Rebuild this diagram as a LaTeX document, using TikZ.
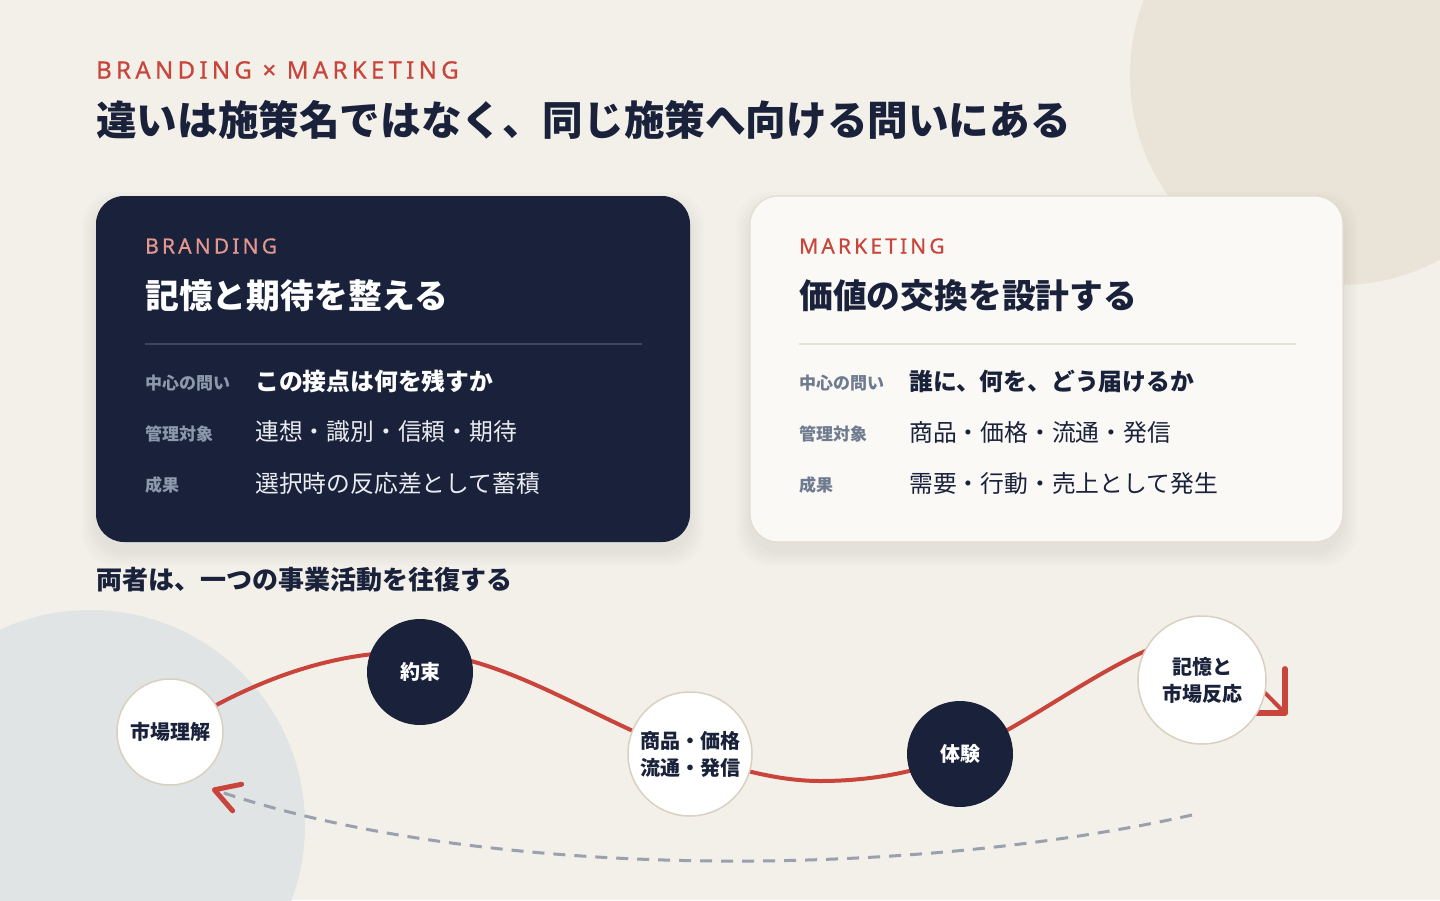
\documentclass[tikz,border=0pt]{standalone}
\usepackage{fontspec}
\setmainfont{Noto Sans CJK JP}
\newfontfamily\lat{Noto Sans}[LetterSpace=15,FakeBold=0.6]
\newfontfamily\lathdr{Noto Sans}[LetterSpace=18,FakeBold=0.6]
\usetikzlibrary{arrows.meta}
\definecolor{bgc}{HTML}{F3F0E9}
\definecolor{decoA}{HTML}{EAE3D7}
\definecolor{decoB}{HTML}{E1E4E5}
\definecolor{navy}{HTML}{19223A}
\definecolor{redc}{HTML}{C9443B}
\definecolor{salmon}{HTML}{E3978F}
\definecolor{lblD}{HTML}{8D98AC}
\definecolor{lblL}{HTML}{6F7B8F}
\definecolor{divD}{HTML}{3B475C}
\definecolor{divL}{HTML}{E6E1D9}
\definecolor{cardL}{HTML}{FAF9F6}
\definecolor{cardLb}{HTML}{E3DCD0}
\definecolor{circb}{HTML}{D9D0C0}
\definecolor{dashc}{HTML}{9AA0AD}
\definecolor{valD}{HTML}{E9EBEF}
\pgfdeclarelayer{bgl}
\pgfdeclarelayer{midl}
\pgfsetlayers{bgl,midl,main}
\begin{document}
\begin{tikzpicture}[x=1pt,y=-1pt,
  txt/.style={anchor=west,inner sep=0pt},
  hdr/.style={txt,text=redc,font=\lathdr\fontsize{24}{28}\selectfont},
  eyebrow/.style={txt,font=\lat\fontsize{21}{25}\selectfont},
  bigtitle/.style={txt,text=navy,font=\bfseries\fontsize{40.6}{48}\selectfont},
  cardtitle/.style={txt,font=\bfseries\fontsize{33.8}{40}\selectfont},
  rowlbl/.style={txt,font=\bfseries\fontsize{17}{20}\selectfont},
  rowq/.style={txt,font=\bfseries\fontsize{23.8}{28}\selectfont},
  rowv/.style={txt,font=\fontsize{23.8}{28}\selectfont},
  subttl/.style={txt,text=navy,font=\bfseries\fontsize{26}{30}\selectfont},
  cbase/.style={circle,inner sep=0pt,align=center,font=\bfseries\fontsize{20}{27}\selectfont},
  cw/.style={cbase,fill=white,draw=circb,line width=1.5pt,text=navy},
  cn/.style={cbase,fill=navy,text=white},
  redline/.style={draw=redc,line width=4pt,line cap=round},
  dashline/.style={draw=dashc,line width=3pt,dash pattern=on 12pt off 9pt}
]
\useasboundingbox (0,0) rectangle (1440,900);
\begin{pgfonlayer}{bgl}
  \fill[bgc] (0,0) rectangle (1440,900);
  \begin{scope}
    \clip (0,0) rectangle (1440,900);
    \fill[decoA] (1340,75) circle[radius=210];
    \fill[decoB] (90,825) circle[radius=215];
  \end{scope}
\end{pgfonlayer}

% card shadows
\foreach \s in {2,5,8,11,14}{
  \fill[black,opacity=0.012,rounded corners=34pt] (96-\s,196-\s+10) rectangle (690+\s,542+\s+10);
  \fill[black,opacity=0.010,rounded corners=34pt] (750-\s,196-\s+10) rectangle (1343+\s,542+\s+10);
}

% cards
\node[fill=navy,rounded corners=28pt,minimum width=594,minimum height=346,inner sep=0pt] (bcard) at (393,369) {};
\node[fill=cardL,draw=cardLb,line width=1.2pt,rounded corners=28pt,minimum width=593,minimum height=346,inner sep=0pt] (mcard) at (1046.5,369) {};

% header
\node[hdr] (hdr) at (96,70) {BRANDING × MARKETING};
\node[bigtitle] (title) at (96,120) {違いは施策名ではなく、同じ施策へ向ける問いにある};

% branding card
\node[eyebrow,text=salmon] (beb) at (145,246) {BRANDING};
\node[cardtitle,text=white] (bt) at (145,296) {記憶と期待を整える};
\draw[divD,line width=1.5pt] (145,344) -- (642,344);
\node[rowlbl,text=lblD] (bl1) at (145,383) {中心の問い};
\node[rowq,text=white] (bv1) at (255,381) {この接点は何を残すか};
\node[rowlbl,text=lblD] (bl2) at (145,434) {管理対象};
\node[rowv,text=valD] (bv2) at (255,432) {連想・識別・信頼・期待};
\node[rowlbl,text=lblD] (bl3) at (145,485) {成果};
\node[rowv,text=valD] (bv3) at (255,483) {選択時の反応差として蓄積};

% marketing card
\node[eyebrow,text=redc] (meb) at (799,246) {MARKETING};
\node[cardtitle,text=navy] (mt) at (799,296) {価値の交換を設計する};
\draw[divL,line width=1.5pt] (799,344) -- (1296,344);
\node[rowlbl,text=lblL] (ml1) at (799,383) {中心の問い};
\node[rowq,text=navy] (mv1) at (909,381) {誰に、何を、どう届けるか};
\node[rowlbl,text=lblL] (ml2) at (799,434) {管理対象};
\node[rowv,text=navy] (mv2) at (909,432) {商品・価格・流通・発信};
\node[rowlbl,text=lblL] (ml3) at (799,485) {成果};
\node[rowv,text=navy] (mv3) at (909,483) {需要・行動・売上として発生};

% subtitle
\node[subttl] (sub) at (96,580) {両者は、一つの事業活動を往復する};

% flow nodes
\node[cw,minimum size=106] (n1) at (170,732) {市場理解};
\node[cn,minimum size=106] (n2) at (420,672) {約束};
\node[cw,minimum size=124] (n3) at (690,754) {商品・価格\\流通・発信};
\node[cn,minimum size=106] (n4) at (960,754) {体験};
\node[cw,minimum size=128] (n5) at (1202,680) {記憶と\\市場反応};

\coordinate (tipR) at (1287,715);
\coordinate (dstart) at (1192,815);
\coordinate (dend) at (212,789);

\begin{pgfonlayer}{midl}
  \draw[redline,-{Straight Barb[length=31pt,width=62pt,line width=6pt,round]}]
    (n1.center) .. controls (250,681) and (330,652) .. (410,652)
    .. controls (503,652) and (597,723) .. (n3.center)
    .. controls (733,768) and (777,781) .. (820,781)
    .. controls (865,781) and (915,774) .. (n4.center)
    .. controls (1022,727) and (1081,681) .. (1143,652)
    .. controls (1203,624) and (1242,670) .. (tipR);
\end{pgfonlayer}

\draw[dashline,-{Straight Barb[length=24pt,width=28pt,line width=5pt,color=redc,round]}]
  (dstart) .. controls (900,880) and (480,880) .. (dend);
\end{tikzpicture}
\end{document}
